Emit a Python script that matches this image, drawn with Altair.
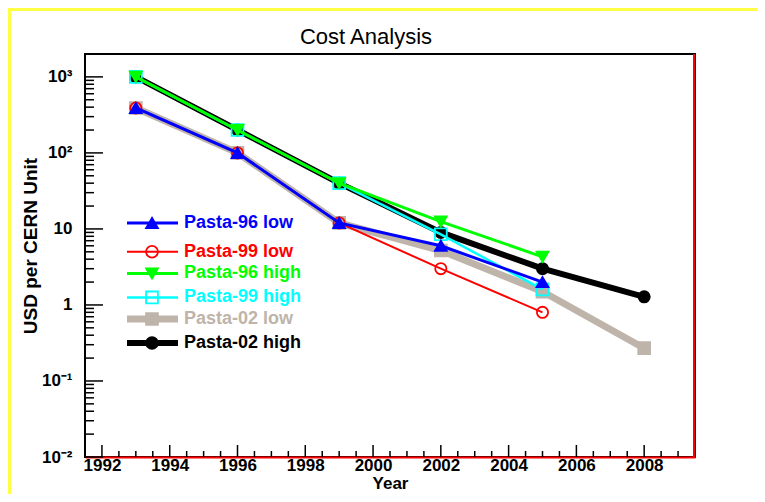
import altair as alt
import pandas as pd

# ---- data ----
years_short = [1993, 1996, 1999, 2002, 2005]
years_long = [1993, 1996, 1999, 2002, 2005, 2008]

pasta96_low = [390, 100, 12, 6.0, 2.0]
pasta99_low = [390, 100, 12, 3.0, 0.8]
pasta96_high = [1000, 200, 40, 12.5, 4.3]
pasta99_high = [1000, 200, 40, 8.5, 1.6]
pasta02_low = [390, 100, 12, 5.2, 1.5, 0.27]
pasta02_high = [1000, 200, 40, 9.0, 3.0, 1.28]

names = ["Pasta-96 low", "Pasta-99 low", "Pasta-96 high",
         "Pasta-99 high", "Pasta-02 low", "Pasta-02 high"]
colors = ["#0000ff", "#ff0000", "#00ff00", "#00ffff", "#beb4aa", "#000000"]
shapes = ["triangle-up", "circle", "triangle-down", "square", "square", "circle"]
fills = ["#0000ff", "transparent", "#00ff00", "transparent", "#beb4aa", "#000000"]
widths = [3, 2, 3, 2.5, 7, 6]
series_years = [years_short, years_short, years_short, years_short, years_long, years_long]
series_vals = [pasta96_low, pasta99_low, pasta96_high, pasta99_high, pasta02_low, pasta02_high]
draw_order = [4, 5, 3, 1, 2, 0]
legend_rows = [0, 1.2, 2.1, 3.1, 4.0, 5.0]

W, H = 610, 403
xscale = alt.Scale(domain=[1991.5, 2009.5], nice=False, zero=False)
yscale = alt.Scale(type="log", domain=[0.01, 2000], nice=False)

label_expr = ("round(log(datum.value)/LN10) == 0 ? '1' : "
              "round(log(datum.value)/LN10) == 1 ? '10' : "
              "'10' + (round(log(datum.value)/LN10) == 3 ? '³' : "
              "round(log(datum.value)/LN10) == 2 ? '²' : "
              "round(log(datum.value)/LN10) == -1 ? '⁻¹' : '⁻²')")

# ---- ticks drawn inside the frame (ROOT style) ----
y_major = [0.01, 0.1, 1, 10, 100, 1000]
y_minor = [m * d for d in [0.01, 0.1, 1, 10, 100, 1000] for m in range(2, 10) if m * d <= 2000]
x_major = list(range(1992, 2010, 2))
x_minor = [1991.5 + 0.5 * i for i in range(0, 37) if (1991.5 + 0.5 * i) not in x_major and 1991.5 < 1991.5 + 0.5 * i < 2009.5]

base_axes = alt.Chart(pd.DataFrame({"v": y_major})).mark_rule(
    color="black", strokeWidth=1.5
).encode(
    y=alt.Y("v:Q", scale=yscale,
            axis=alt.Axis(values=y_major, labelExpr=label_expr, ticks=False, domain=False,
                          grid=False, labelFont="Liberation Sans", labelFontWeight="bold",
                          labelFontSize=17, labelPadding=13, labelColor="black",
                          title="USD per CERN Unit", titleFont="Liberation Sans",
                          titleFontWeight="bold", titleFontSize=19, titleX=-55,
                          titleY=H / 2 - 10, titleAngle=-90, titleAlign="center",
                          titleBaseline="middle", titleColor="black")),
    x=alt.value(0), x2=alt.value(18),
)

y_minor_ticks = alt.Chart(pd.DataFrame({"v": y_minor})).mark_rule(
    color="black", strokeWidth=1.5
).encode(y=alt.Y("v:Q", scale=yscale), x=alt.value(0), x2=alt.value(9))

x_major_ticks = alt.Chart(pd.DataFrame({"yr": x_major})).mark_rule(
    color="black", strokeWidth=1.5
).encode(
    x=alt.X("yr:Q", scale=xscale,
            axis=alt.Axis(values=x_major, format="d", ticks=False, domain=True,
                          domainColor="#ff0000", domainWidth=2, grid=False,
                          labelFont="Liberation Sans", labelFontSize=17,
                          labelPadding=0, labelColor="black", labelFontWeight="bold",
                          title="Year", titleFont="Liberation Sans", titleFontWeight="bold",
                          titleFontSize=17, titlePadding=2, titleColor="black")),
    y=alt.value(H), y2=alt.value(H - 12),
)
x_minor_ticks = alt.Chart(pd.DataFrame({"yr": x_minor})).mark_rule(
    color="black", strokeWidth=1.5
).encode(x=alt.X("yr:Q", scale=xscale), y=alt.value(H), y2=alt.value(H - 6))

right_edge = alt.Chart(pd.DataFrame({"a": [0]})).mark_rule(
    color="#ff0000", strokeWidth=2
).encode(x=alt.value(W - 1), y=alt.value(0), y2=alt.value(H))

layers = [base_axes, y_minor_ticks, x_major_ticks, x_minor_ticks, right_edge]

for i in draw_order:
    df = pd.DataFrame({"year": series_years[i], "value": series_vals[i]})
    line = alt.Chart(df).mark_line(color=colors[i], strokeWidth=widths[i]).encode(
        x=alt.X("year:Q", scale=xscale), y=alt.Y("value:Q", scale=yscale))
    pts = alt.Chart(df).mark_point(
        shape=shapes[i], size=140 if shapes[i] != "circle" else 125,
        filled=False, fill=fills[i], stroke=colors[i], strokeWidth=1.8, opacity=1
    ).encode(x=alt.X("year:Q", scale=xscale), y=alt.Y("value:Q", scale=yscale))
    layers += [line, pts]

main = alt.layer(*layers)

# ---- manual legend inside the frame ----
leg = pd.DataFrame({"name": names, "color": colors, "shape": shapes, "fill": fills,
                    "w": widths, "row": legend_rows})
rowscale = alt.Scale(domain=[0, 5], range=[169, 289])
leg_lines = alt.Chart(leg).mark_rule().encode(
    y=alt.Y("row:Q", scale=rowscale, axis=None),
    x=alt.value(42), x2=alt.value(93),
    color=alt.Color("color:N", scale=None),
    strokeWidth=alt.StrokeWidth("w:Q", scale=None),
)
leg_pts = alt.Chart(leg).mark_point(size=140, strokeWidth=1.8, opacity=1).encode(
    y=alt.Y("row:Q", scale=rowscale, axis=None),
    x=alt.value(67),
    shape=alt.Shape("shape:N", scale=None),
    stroke=alt.Stroke("color:N", scale=None),
    fill=alt.Fill("fill:N", scale=None),
)
leg_text = alt.Chart(leg).mark_text(
    align="left", baseline="middle", font="Liberation Sans", fontWeight="bold", fontSize=18
).encode(
    y=alt.Y("row:Q", scale=rowscale, axis=None),
    x=alt.value(99),
    text="name:N",
    color=alt.Color("color:N", scale=None),
)

border = alt.Chart(pd.DataFrame({"a": [0]})).mark_rule(color="#ffff44", strokeWidth=3).encode(
    x=alt.value(-76), x2=alt.value(W + 62), y=alt.value(-44.5))
border_left = alt.Chart(pd.DataFrame({"a": [0]})).mark_rule(color="#ffff44", strokeWidth=3).encode(
    x=alt.value(-75.5), y=alt.value(-46), y2=alt.value(H + 40))

chart = alt.layer(main, leg_lines, leg_pts, leg_text, border, border_left).resolve_scale(
    y="independent"
).properties(
    width=W, height=H,
    autosize=alt.AutoSizeParams(type="none"),
    padding={"left": 77, "top": 46, "right": 62, "bottom": 37},
    title=alt.TitleParams("Cost Analysis", font="Liberation Sans", fontSize=22,
                          fontWeight="normal", anchor="middle", dx=-24, offset=-59,
                          baseline="alphabetic", color="black"),
    background="white",
).configure_view(stroke="black", strokeWidth=2)

chart.save("out.html", embed_options={"renderer": "svg", "actions": False})
